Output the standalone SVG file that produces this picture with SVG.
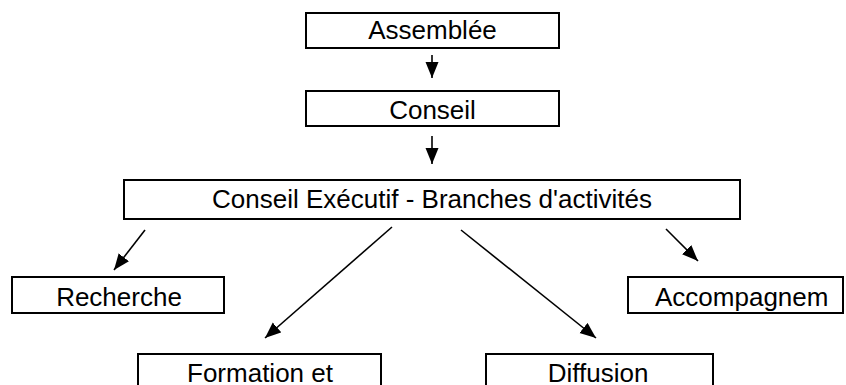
<svg xmlns="http://www.w3.org/2000/svg" width="846" height="385" viewBox="0 0 846 385">
<style>
.box{fill:#fff;stroke:#000;stroke-width:2}
.lbl{font-family:"Liberation Sans",Arial,sans-serif;font-size:26px;fill:#000}
.c{text-anchor:middle}
.conn line{stroke:#000;stroke-width:1.6;marker-end:url(#ah)}
</style>
<defs>
<marker id="ah" markerUnits="userSpaceOnUse" markerWidth="17" markerHeight="14" refX="16" refY="6.5" orient="auto">
<path d="M0,0 L16,6.5 L0,13 z" fill="#000"/>
</marker>
</defs>
<rect width="846" height="385" fill="#fff"/>
<g id="assemblee"><rect class="box" x="306" y="13" width="253" height="35"/><text class="lbl c" x="432.5" y="39">Assemblée</text></g>
<g id="conseil"><rect class="box" x="306" y="91" width="253" height="35"/><text class="lbl c" x="432.5" y="119">Conseil</text></g>
<g id="executif"><rect class="box" x="124" y="180" width="616" height="39"/><text class="lbl c" x="432" y="208">Conseil Exécutif - Branches d'activités</text></g>
<g id="recherche"><rect class="box" x="12" y="277" width="212" height="36"/><text class="lbl c" x="119" y="306">Recherche</text></g>
<g id="accompagnement"><rect class="box" x="628" y="277" width="215" height="36"/><text class="lbl" x="655" y="306">Accompagnem</text></g>
<g id="formation"><rect class="box" x="138" y="354" width="243" height="50"/><text class="lbl c" x="260" y="382">Formation et</text></g>
<g id="diffusion"><rect class="box" x="486" y="354" width="227" height="50"/><text class="lbl c" x="598" y="382">Diffusion</text></g>
<g id="connectors" class="conn">
<line x1="432" y1="55" x2="432" y2="78"/>
<line x1="432" y1="136" x2="432" y2="164"/>
<line x1="145" y1="230" x2="114" y2="270"/>
<line x1="392" y1="227" x2="265" y2="338"/>
<line x1="461" y1="230" x2="596" y2="338"/>
<line x1="666" y1="229" x2="698" y2="261"/>
</g>
</svg>
